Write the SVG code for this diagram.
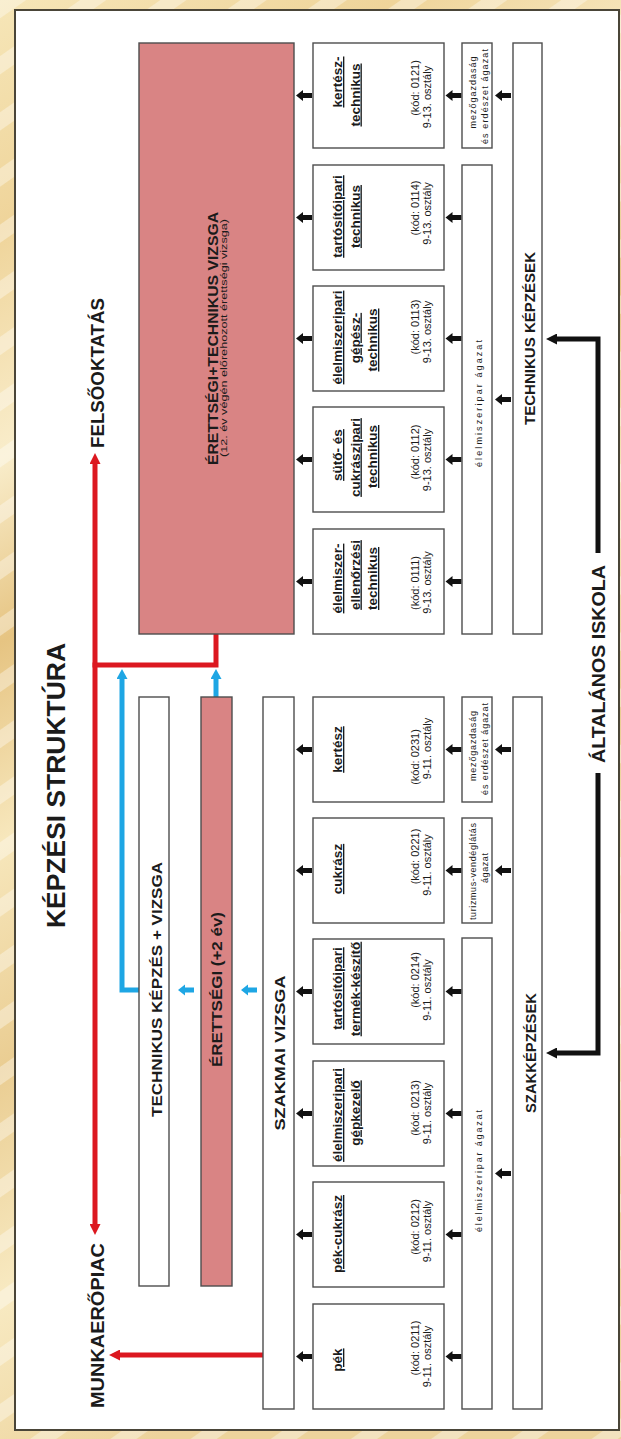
<svg xmlns="http://www.w3.org/2000/svg" width="621" height="1439" viewBox="0 0 621 1439">
<defs>
  <linearGradient id="bgGrad" x1="0" y1="0" x2="0.25" y2="1">
    <stop offset="0" stop-color="#F6E6B8"/>
    <stop offset="0.15" stop-color="#EFD49A"/>
    <stop offset="0.3" stop-color="#F9EDCB"/>
    <stop offset="0.42" stop-color="#E6C482"/>
    <stop offset="0.55" stop-color="#F7E7BC"/>
    <stop offset="0.7" stop-color="#EACD92"/>
    <stop offset="0.85" stop-color="#F8EAC2"/>
    <stop offset="1" stop-color="#EDD39C"/>
  </linearGradient>
  <pattern id="stripes" width="46" height="46" patternUnits="userSpaceOnUse" patternTransform="rotate(-35)">
    <rect width="46" height="15" fill="#FFFFFF" opacity="0.35"/>
  </pattern>
  <path id="blkArrow" d="M0,0 L5.5,7 L2.5,7 L2.5,16 L-2.5,16 L-2.5,7 L-5.5,7 Z"/>
  <marker id="mRed" markerUnits="userSpaceOnUse" markerWidth="11" markerHeight="11" viewBox="0 0 11 11" refX="0" refY="5.5" orient="auto-start-reverse">
    <path d="M0,0 L11,5.5 L0,11 Z" fill="#DC1820"/>
  </marker>
  <marker id="mBlue" markerUnits="userSpaceOnUse" markerWidth="10" markerHeight="11" viewBox="0 0 10 11" refX="0" refY="5.5" orient="auto">
    <path d="M0,0 L10,5.5 L0,11 Z" fill="#1EA6E4"/>
  </marker>
  <marker id="mBlack" markerUnits="userSpaceOnUse" markerWidth="11" markerHeight="11" viewBox="0 0 11 11" refX="0" refY="5.5" orient="auto">
    <path d="M0,0 L11,5.5 L0,11 Z" fill="#111111"/>
  </marker>
  <style>
    text { font-family: "Liberation Sans", Arial, sans-serif; fill: #1b1b1b; text-anchor: middle; }
    .box { fill: #FFFFFF; stroke: #4d4d4d; stroke-width: 1.4; }
    .pink { fill: #D98484; stroke: #4d4d4d; stroke-width: 1.4; }
    .hd { font-weight: bold; }
    .occ { font-weight: bold; font-size: 13.5px; text-decoration: underline; }
    .code { font-size: 11px; }
    .ag { font-size: 9px; }
    .red { fill: none; stroke: #DC1820; stroke-width: 5; }
    .blue { fill: none; stroke: #1EA6E4; stroke-width: 5; }
    .black { fill: none; stroke: #111111; stroke-width: 5; }
    .ba { fill: #111111; }
    .bb { fill: #1EA6E4; }
  </style>
</defs>

<rect x="0" y="0" width="621" height="1439" fill="url(#bgGrad)"/>
<rect x="0" y="0" width="621" height="1439" fill="url(#stripes)"/>
<rect x="15" y="10" width="604" height="1420" fill="#FFFFFF" stroke="#4a4538" stroke-width="2"/>

<g transform="translate(0,1439) rotate(-90)">

  <g id="connectors">
    <path class="red" d="M215,95 H975" marker-start="url(#mRed)" marker-end="url(#mRed)"/>
    <path class="red" d="M805,216 H774 V92.5"/>
    <path class="red" d="M84,263 V120" marker-end="url(#mRed)"/>
    <path class="blue" d="M449,139 V122 H760" marker-end="url(#mBlue)"/>
    <path class="blue" d="M742,216 H760" marker-end="url(#mBlue)"/>
    <path class="black" d="M886,598 H1100 V557" marker-end="url(#mBlack)"/>
    <path class="black" d="M666,598 H386 V557" marker-end="url(#mBlack)"/>
    <use href="#blkArrow" class="bb" x="449" y="178"/>
    <use href="#blkArrow" class="bb" x="449" y="241"/>
    <use href="#blkArrow" class="ba" x="1343.5" y="296"/>
    <use href="#blkArrow" class="ba" x="1221.5" y="296"/>
    <use href="#blkArrow" class="ba" x="1100.5" y="296"/>
    <use href="#blkArrow" class="ba" x="979.5" y="296"/>
    <use href="#blkArrow" class="ba" x="857.5" y="296"/>
    <use href="#blkArrow" class="ba" x="689.5" y="296"/>
    <use href="#blkArrow" class="ba" x="568.5" y="296"/>
    <use href="#blkArrow" class="ba" x="447.5" y="296"/>
    <use href="#blkArrow" class="ba" x="325.5" y="296"/>
    <use href="#blkArrow" class="ba" x="204.5" y="296"/>
    <use href="#blkArrow" class="ba" x="82.5" y="296"/>
    <use href="#blkArrow" class="ba" x="1343.5" y="445.5"/>
    <use href="#blkArrow" class="ba" x="1221.5" y="445.5"/>
    <use href="#blkArrow" class="ba" x="1100.5" y="445.5"/>
    <use href="#blkArrow" class="ba" x="979.5" y="445.5"/>
    <use href="#blkArrow" class="ba" x="857.5" y="445.5"/>
    <use href="#blkArrow" class="ba" x="689.5" y="445.5"/>
    <use href="#blkArrow" class="ba" x="568.5" y="445.5"/>
    <use href="#blkArrow" class="ba" x="447.5" y="445.5"/>
    <use href="#blkArrow" class="ba" x="325.5" y="445.5"/>
    <use href="#blkArrow" class="ba" x="204.5" y="445.5"/>
    <use href="#blkArrow" class="ba" x="82.5" y="445.5"/>
    <use href="#blkArrow" class="ba" x="1343.5" y="495"/>
    <use href="#blkArrow" class="ba" x="1039.5" y="495"/>
    <use href="#blkArrow" class="ba" x="689.5" y="495"/>
    <use href="#blkArrow" class="ba" x="568.5" y="495"/>
    <use href="#blkArrow" class="ba" x="265.5" y="495"/>
  </g>

  <g id="title">
    <text class="hd" x="653.5" y="65" font-size="26" textLength="285" lengthAdjust="spacingAndGlyphs">KÉPZÉSI STRUKTÚRA</text>
  </g>
  <g id="felsooktatas">
    <text class="hd" x="1066" y="104" font-size="19" textLength="150" lengthAdjust="spacingAndGlyphs">FELSŐOKTATÁS</text>
  </g>
  <g id="munkaeropiac">
    <text class="hd" x="113.5" y="104" font-size="19" textLength="165" lengthAdjust="spacingAndGlyphs">MUNKAERŐPIAC</text>
  </g>
  <g id="altalanos-iskola">
    <text class="hd" x="775" y="605" font-size="19" textLength="198" lengthAdjust="spacingAndGlyphs">ÁLTALÁNOS ISKOLA</text>
  </g>

  <g id="erettsegi-technikus-vizsga">
    <rect class="pink" x="805" y="139" width="591" height="155"/>
    <text class="hd" x="1100.5" y="218" font-size="14" textLength="253" lengthAdjust="spacingAndGlyphs">ÉRETTSÉGI+TECHNIKUS VIZSGA</text>
    <text x="1101" y="226.5" font-size="8.5" textLength="238" lengthAdjust="spacingAndGlyphs">(12. év végén előrehozott érettségi vizsga)</text>
  </g>

  <g id="technikus-kepzes-vizsga">
    <rect class="box" x="153" y="139" width="589" height="30"/>
    <text class="hd" x="449.5" y="161.5" font-size="15" textLength="255" lengthAdjust="spacingAndGlyphs">TECHNIKUS KÉPZÉS + VIZSGA</text>
  </g>
  <g id="erettsegi-2ev">
    <rect class="pink" x="153" y="201" width="589" height="31"/>
    <text class="hd" x="449.5" y="222" font-size="15" textLength="155" lengthAdjust="spacingAndGlyphs">ÉRETTSÉGI (+2 év)</text>
  </g>
  <g id="szakmai-vizsga">
    <rect class="box" x="30" y="263" width="712" height="31"/>
    <text class="hd" x="386" y="285" font-size="15" textLength="155" lengthAdjust="spacingAndGlyphs">SZAKMAI VIZSGA</text>
  </g>

  <g id="kerteszt-technikus">
    <rect class="box" x="1291" y="313" width="105" height="131"/>
    <text class="occ" x="1357" y="342">kertész-</text>
    <text class="occ" x="1344" y="359.5">technikus</text>
    <text class="code" x="1351" y="418.5">(kód: 0121)</text>
    <text class="code" x="1342" y="431">9-13. osztály</text>
  </g>
  <g id="tartositoipari-technikus">
    <rect class="box" x="1169" y="313" width="105" height="131"/>
    <text class="occ" x="1222.5" y="342">tartósítóipari</text>
    <text class="occ" x="1222.5" y="359.5">technikus</text>
    <text class="code" x="1231" y="418.5">(kód: 0114)</text>
    <text class="code" x="1225.5" y="431">9-13. osztály</text>
  </g>
  <g id="elelmiszeripari-gepesz-technikus">
    <rect class="box" x="1048" y="313" width="105" height="131"/>
    <text class="occ" x="1101.5" y="342">élelmiszeripari</text>
    <text class="occ" x="1101" y="359.5">gépész-</text>
    <text class="occ" x="1099" y="377">technikus</text>
    <text class="code" x="1112" y="418.5">(kód: 0113)</text>
    <text class="code" x="1107" y="431">9-13. osztály</text>
  </g>
  <g id="suto-cukraszipari-technikus">
    <rect class="box" x="927" y="313" width="105" height="131"/>
    <text class="occ" x="984" y="342">sütő- és</text>
    <text class="occ" x="981.5" y="359.5">cukrászipari</text>
    <text class="occ" x="982.5" y="377">technikus</text>
    <text class="code" x="987" y="418.5">(kód: 0112)</text>
    <text class="code" x="979" y="431">9-13. osztály</text>
  </g>
  <g id="elelmiszer-ellenorzesi-technikus">
    <rect class="box" x="805" y="313" width="105" height="131"/>
    <text class="occ" x="860.5" y="342">élelmiszer-</text>
    <text class="occ" x="864" y="359.5">ellenőrzési</text>
    <text class="occ" x="860.5" y="377">technikus</text>
    <text class="code" x="856" y="418.5">(kód: 0111)</text>
    <text class="code" x="856.5" y="431">9-13. osztály</text>
  </g>

  <g id="kertesz">
    <rect class="box" x="637" y="313" width="105" height="131"/>
    <text class="occ" x="689.5" y="342">kertész</text>
    <text class="code" x="682" y="418.5">(kód: 0231)</text>
    <text class="code" x="690.5" y="431">9-11. osztály</text>
  </g>
  <g id="cukrasz">
    <rect class="box" x="516" y="313" width="105" height="131"/>
    <text class="occ" x="570" y="342">cukrász</text>
    <text class="code" x="582.5" y="418.5">(kód: 0221)</text>
    <text class="code" x="574" y="431">9-11. osztály</text>
  </g>
  <g id="tartositoipari-termek-keszito">
    <rect class="box" x="395" y="313" width="105" height="131"/>
    <text class="occ" x="450.5" y="342">tartósítóipari</text>
    <text class="occ" x="450" y="359.5">termék-készítő</text>
    <text class="code" x="459" y="418.5">(kód: 0214)</text>
    <text class="code" x="449" y="431">9-11. osztály</text>
  </g>
  <g id="elelmiszeripari-gepkezelo">
    <rect class="box" x="273" y="313" width="105" height="131"/>
    <text class="occ" x="324" y="342">élelmiszeripari</text>
    <text class="occ" x="326" y="359.5">gépkezelő</text>
    <text class="code" x="331" y="418.5">(kód: 0213)</text>
    <text class="code" x="325.5" y="431">9-11. osztály</text>
  </g>
  <g id="pek-cukrasz">
    <rect class="box" x="152" y="313" width="105" height="131"/>
    <text class="occ" x="205" y="342">pék-cukrász</text>
    <text class="code" x="212" y="418.5">(kód: 0212)</text>
    <text class="code" x="207.5" y="431">9-11. osztály</text>
  </g>
  <g id="pek">
    <rect class="box" x="30" y="313" width="105" height="131"/>
    <text class="occ" x="79" y="342">pék</text>
    <text class="code" x="91" y="418.5">(kód: 0211)</text>
    <text class="code" x="82.5" y="431">9-11. osztály</text>
  </g>

  <g id="agazat-mezogazdasag-1">
    <rect class="box" x="1291" y="462" width="105" height="30"/>
    <text class="ag" x="1346.5" y="476" textLength="72" lengthAdjust="spacing">mezőgazdaság</text>
    <text class="ag" x="1342.5" y="487.5" textLength="95" lengthAdjust="spacing">és erdészet ágazat</text>
  </g>
  <g id="agazat-elelmiszeripar-1">
    <rect class="box" x="805" y="462" width="469" height="30"/>
    <text class="ag" x="1035.5" y="481.5" textLength="127" lengthAdjust="spacing">élelmiszeripar ágazat</text>
  </g>
  <g id="agazat-mezogazdasag-2">
    <rect class="box" x="637" y="462" width="105" height="30"/>
    <text class="ag" x="693" y="476" textLength="70" lengthAdjust="spacing">mezőgazdaság</text>
    <text class="ag" x="690" y="487.5" textLength="92" lengthAdjust="spacing">és erdészet ágazat</text>
  </g>
  <g id="agazat-turizmus">
    <rect class="box" x="516" y="462" width="105" height="30"/>
    <text class="ag" x="567.5" y="476" textLength="97" lengthAdjust="spacing">turizmus-vendéglátás</text>
    <text class="ag" x="571" y="487.5" textLength="30" lengthAdjust="spacing">ágazat</text>
  </g>
  <g id="agazat-elelmiszeripar-2">
    <rect class="box" x="30" y="462" width="471" height="30"/>
    <text class="ag" x="268" y="481.5" textLength="122" lengthAdjust="spacing">élelmiszeripar ágazat</text>
  </g>

  <g id="technikus-kepzesek">
    <rect class="box" x="805" y="513" width="591" height="29"/>
    <text class="hd" x="1100.5" y="535" font-size="15" textLength="173" lengthAdjust="spacingAndGlyphs">TECHNIKUS KÉPZÉSEK</text>
  </g>
  <g id="szakkepzesek">
    <rect class="box" x="30" y="513" width="712" height="29"/>
    <text class="hd" x="386" y="536" font-size="15" textLength="120" lengthAdjust="spacingAndGlyphs">SZAKKÉPZÉSEK</text>
  </g>

</g>
</svg>
